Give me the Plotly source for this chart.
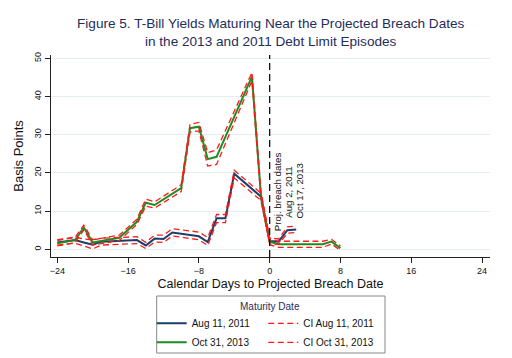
import plotly.graph_objects as go

# ---------------- data ----------------
blue_days = [-24, -22, -21, -20, -19, -18, -15, -14, -13, -12, -11, -8, -7, -6, -5, -4, -1, 0, 1, 2, 3]
blue_vals = [1.8, 2.4, 1.8, 1.2, 2.0, 2.1, 2.4, 1.0, 2.8, 2.7, 4.4, 3.4, 1.9, 8.1, 8.1, 19.8, 13.8, 2.2, 2.0, 5.0, 5.2]
blue_hi = [2.5, 3.2, 2.7, 2.4, 2.9, 3.0, 3.3, 1.8, 3.7, 3.7, 5.4, 4.5, 3.1, 9.1, 9.1, 20.7, 14.7, 3.0, 2.7, 5.9, 6.1]
blue_lo = [1.1, 1.6, 0.9, 0.1, 1.1, 1.2, 1.5, 0.2, 1.9, 1.8, 3.5, 2.5, 1.0, 7.0, 7.0, 18.7, 12.8, 1.4, 1.3, 4.2, 4.4]

green_days = [-24, -23, -22, -21, -20, -17, -16, -15, -14, -13, -10, -9, -8, -7, -6, -2, -1, 0, 1, 4, 5, 6, 7, 8]
green_vals = [1.6, 2.0, 2.4, 5.7, 1.8, 3.0, 5.0, 7.2, 12.2, 11.6, 16.0, 31.7, 32.1, 23.6, 24.2, 45.2, 14.5, 2.0, 1.3, 1.3, 1.3, 1.3, 2.0, 0.3]
green_hi = [2.3, 2.7, 3.1, 6.3, 2.5, 3.7, 5.7, 7.9, 13.1, 12.4, 16.9, 32.7, 33.2, 25.3, 26.0, 46.3, 15.3, 2.8, 2.1, 2.1, 2.1, 2.1, 2.6, 0.9]
green_lo = [0.9, 1.3, 1.7, 5.1, 1.1, 2.3, 4.3, 6.5, 11.3, 10.8, 15.1, 30.7, 31.0, 21.8, 22.2, 44.1, 13.7, 1.2, 0.5, 0.5, 0.5, 0.5, 1.4, -0.3]

x_ticks = [-24, -16, -8, 0, 8, 16, 24]
y_ticks = [0, 10, 20, 30, 40, 50]
breach_day = 0
series_names = ["Aug 11, 2011", "Oct 31, 2013"]
ci_names = ["CI Aug 11, 2011", "CI Oct 31, 2013"]
breach_labels = ["Proj. breach dates", "Aug 2, 2011", "Oct 17, 2013"]
title_lines = ["Figure 5. T-Bill Yields Maturing Near the Projected Breach Dates",
               "in the 2013 and 2011 Debt Limit Episodes"]

# ---------------- styles / layout geometry ----------------
NAVY = "#1a3f6b"
GREEN = "#1e8c1e"
RED = "#ff1a1a"
FONT = "Liberation Sans, Arial, sans-serif"
TITLE_C = "#1f2d5c"

W, H = 512, 358
OFF = 8  # page body margin offset
# plot area in page pixels
PL, PR, PT, PB = 51, 490, 55, 257
ML, MT = PL - OFF, PT - OFF
MR, MB = W - (PR - OFF), H - (PB - OFF)
pw, ph = PR - PL, PB - PT


def fx(px):
    return (px - PL) / pw


def fy(py):
    return (PB - py) / ph


fig = go.Figure()
fig.add_trace(go.Scatter(x=blue_days, y=blue_vals, mode="lines", name=series_names[0],
                         line=dict(color=NAVY, width=2), legend="legend"))
fig.add_trace(go.Scatter(x=green_days, y=green_vals, mode="lines", name=series_names[1],
                         line=dict(color=GREEN, width=2), legend="legend"))
ci_line = dict(color=RED, width=1.3, dash="6px,3.5px")
fig.add_trace(go.Scatter(x=blue_days, y=blue_hi, mode="lines", name=ci_names[0],
                         line=ci_line, legend="legend2", legendgroup="cib"))
fig.add_trace(go.Scatter(x=blue_days, y=blue_lo, mode="lines", name=ci_names[0],
                         line=ci_line, legend="legend2", legendgroup="cib", showlegend=False))
fig.add_trace(go.Scatter(x=green_days, y=green_hi, mode="lines", name=ci_names[1],
                         line=ci_line, legend="legend2", legendgroup="cig"))
fig.add_trace(go.Scatter(x=green_days, y=green_lo, mode="lines", name=ci_names[1],
                         line=ci_line, legend="legend2", legendgroup="cig", showlegend=False))

# vertical reference line at breach day
fig.add_shape(type="line", xref="x", yref="paper", x0=breach_day, x1=breach_day, y0=0, y1=1,
              line=dict(color="#111111", width=1.3, dash="7px,4px"))

# breach labels (rotated)
for lab, xx in zip(breach_labels, [277.8, 288.3, 299.0]):
    fig.add_annotation(x=fx(xx), y=fy(191.5), xref="paper", yref="paper", text=lab, textangle=-90,
                       xanchor="center", yanchor="middle",
                       showarrow=False, font=dict(family=FONT, size=9.7, color="#111111"))

# title
fig.add_annotation(x=fx(271), y=fy(33), xref="paper", yref="paper", text="<br>".join(title_lines),
                   xanchor="center", yanchor="middle", showarrow=False, align="center",
                   font=dict(family=FONT, size=13.6, color=TITLE_C))

# legend box and title
fig.add_shape(type="rect", xref="paper", yref="paper",
              x0=fx(156.7), x1=fx(385), y0=fy(353), y1=fy(296),
              line=dict(color="#888888", width=1), fillcolor="rgba(0,0,0,0)", layer="above")
fig.add_annotation(x=fx(270), y=fy(306), xref="paper", yref="paper",
                   text="Maturity Date", showarrow=False, xanchor="center", yanchor="middle",
                   font=dict(family=FONT, size=10, color=TITLE_C))

leg_common = dict(xanchor="left", yanchor="top", bgcolor="rgba(0,0,0,0)",
                  font=dict(family=FONT, size=10, color="#111111"), tracegroupgap=0, itemwidth=30)
fig.update_layout(
    width=W, height=H,
    margin=dict(l=ML, r=MR, t=MT, b=MB, autoexpand=False),
    paper_bgcolor="white", plot_bgcolor="white",
    font=dict(family=FONT, size=10, color="#111111"),
    legend=dict(x=fx(151.7), y=fy(308.8), **leg_common),
    legend2=dict(x=fx(263.3), y=fy(308.8), **leg_common),
    showlegend=True,
)

fig.update_xaxes(range=[-24.71, 24.9], tickmode="array", tickvals=x_ticks,
                 showgrid=False, zeroline=False, showline=True, linecolor="#222222", linewidth=1,
                 ticks="outside", ticklen=5, tickcolor="#222222",
                 tickfont=dict(family=FONT, size=9, color="#111111"),
                 title=dict(text="Calendar Days to Projected Breach Date",
                            font=dict(family=FONT, size=12.5, color="#111111"), standoff=4))
fig.update_yaxes(range=[-2.02, 50.86], tickmode="array", tickvals=y_ticks, tickangle=-90,
                 showgrid=True, gridcolor="#e4edf0", gridwidth=1, zeroline=False,
                 showline=True, linecolor="#222222", linewidth=1,
                 ticks="outside", ticklen=5, tickcolor="#222222",
                 tickfont=dict(family=FONT, size=9, color="#111111"),
                 title=dict(text="Basis Points", font=dict(family=FONT, size=13, color="#111111"),
                            standoff=6))

fig.write_html("out.html")
